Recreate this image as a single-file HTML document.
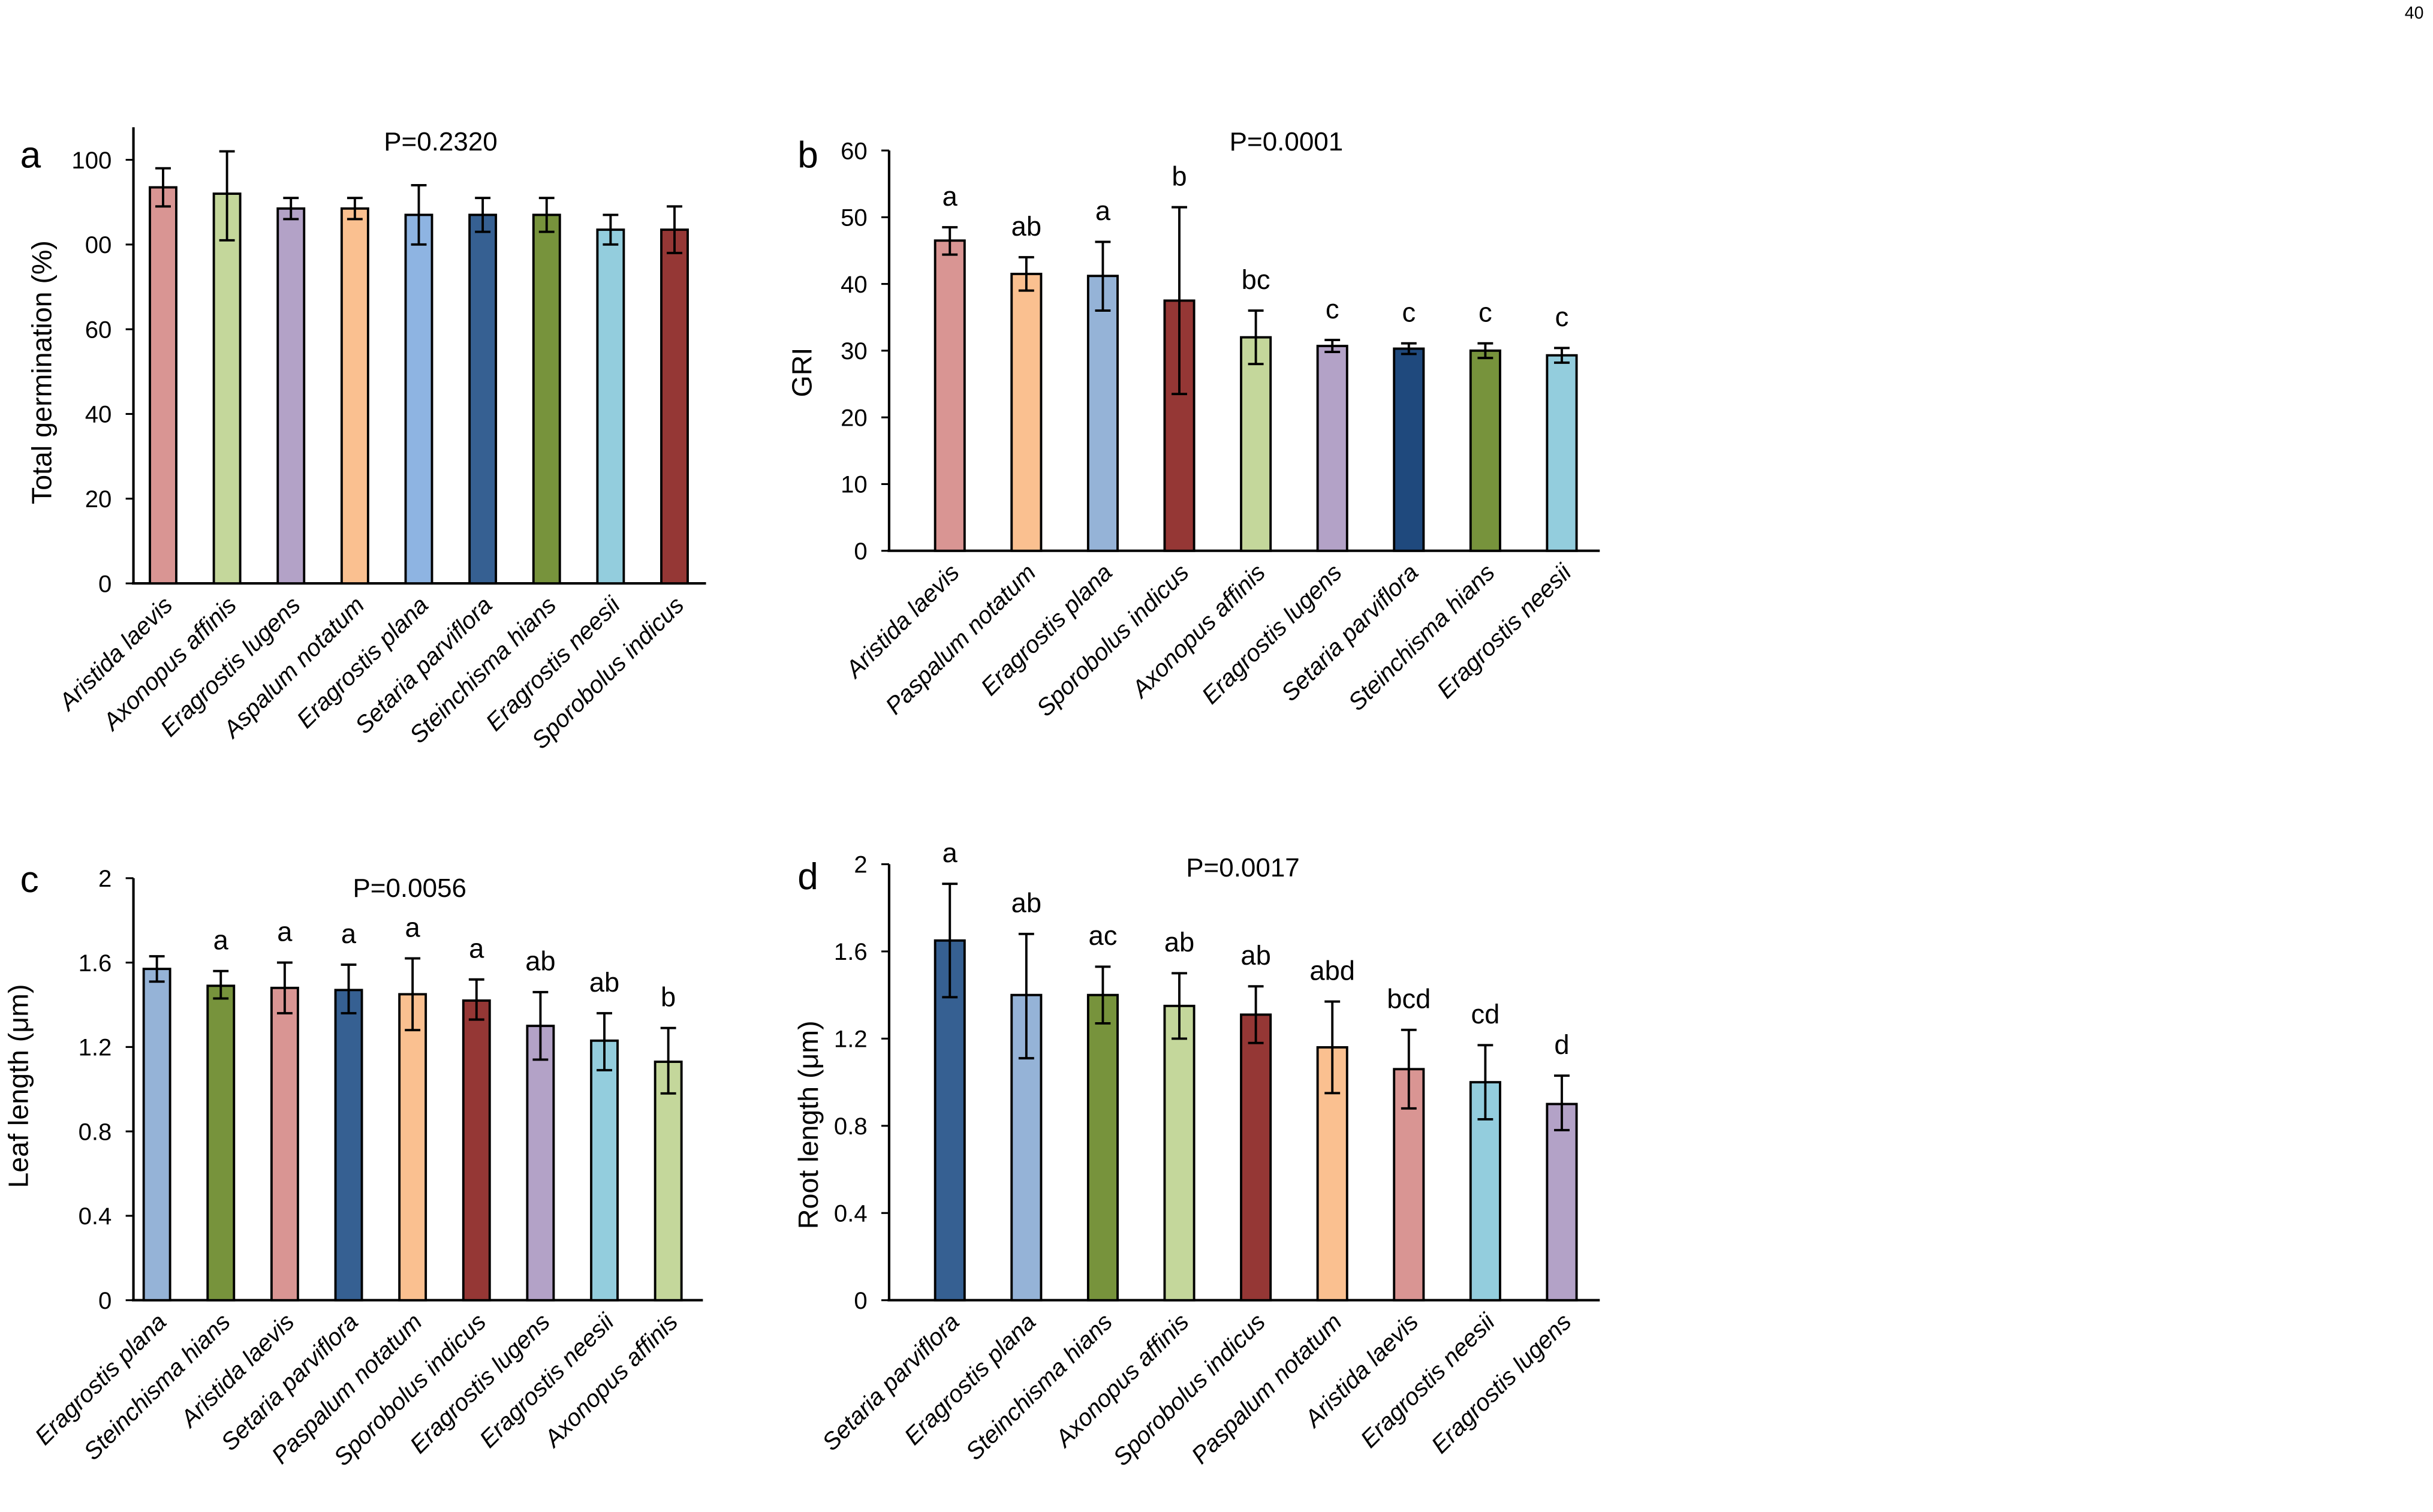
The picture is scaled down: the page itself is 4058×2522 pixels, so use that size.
<!DOCTYPE html>
<html><head><meta charset="utf-8"><style>
html,body{margin:0;padding:0;background:#fff;}
svg{display:block;font-family:"Liberation Sans",Arial,sans-serif;}
</style></head><body>
<svg id="fig" width="4058" height="2522" viewBox="0 0 1568 974.5" preserveAspectRatio="none" xmlns="http://www.w3.org/2000/svg">
<text x="1562" y="12" font-size="11" text-anchor="end">40</text>
</svg>
<script>
// Panel a
const catsA = ["Aristida laevis","Axonopus affinis","Eragrostis lugens","Aspalum notatum","Eragrostis plana","Setaria parviflora","Steinchisma hians","Eragrostis neesii","Sporobolus indicus"];
const valsA = [93.5,92,88.5,88.5,87,87,87,83.5,83.5];
const hiA = [98,102,91,91,94,91,91,87,89];
const loA = [89,81,86,86,80,83,83,80,78];
const ticksA = [0,20,40,60,80,100];
const tickLabelsA = ["0","20","40","60","00","100"];
const colorsA = ["#d99593","#c4d79b","#b3a2c7","#fac090","#8eb4e2","#366092","#77933c","#93cddd","#953735"];
const lettersA = ["","","","","","","","",""];
// Panel b
const catsB = ["Aristida laevis","Paspalum notatum","Eragrostis plana","Sporobolus indicus","Axonopus affinis","Eragrostis lugens","Setaria parviflora","Steinchisma hians","Eragrostis neesii"];
const valsB = [46.5,41.5,41.2,37.5,32,30.7,30.3,30,29.3];
const hiB = [48.5,44,46.3,51.5,36,31.6,31.1,31.1,30.4];
const loB = [44.4,39,36,23.5,28,29.8,29.5,28.9,28.2];
const ticksB = [0,10,20,30,40,50,60];
const tickLabelsB = ["0","10","20","30","40","50","60"];
const colorsB = ["#d99593","#fac090","#95b3d7","#953735","#c4d79b","#b3a2c7","#1f497d","#77933c","#93cddd"];
const lettersB = ["a","ab","a","b","bc","c","c","c","c"];
// Panel c
const catsC = ["Eragrostis plana","Steinchisma hians","Aristida laevis","Setaria parviflora","Paspalum notatum","Sporobolus indicus","Eragrostis lugens","Eragrostis neesii","Axonopus affinis"];
const valsC = [1.57,1.49,1.48,1.47,1.45,1.42,1.30,1.23,1.13];
const hiC = [1.63,1.56,1.60,1.59,1.62,1.52,1.46,1.36,1.29];
const loC = [1.51,1.43,1.36,1.36,1.28,1.33,1.14,1.09,0.98];
const ticksC = [0,0.4,0.8,1.2,1.6,2];
const tickLabelsC = ["0","0.4","0.8","1.2","1.6","2"];
const colorsC = ["#95b3d7","#77933c","#d99593","#366092","#fac090","#953735","#b3a2c7","#93cddd","#c4d79b"];
const lettersC = ["","a","a","a","a","a","ab","ab","b"];
// Panel d
const catsD = ["Setaria parviflora","Eragrostis plana","Steinchisma hians","Axonopus affinis","Sporobolus indicus","Paspalum notatum","Aristida laevis","Eragrostis neesii","Eragrostis lugens"];
const valsD = [1.65,1.40,1.40,1.35,1.31,1.16,1.06,1.00,0.90];
const hiD = [1.91,1.68,1.53,1.50,1.44,1.37,1.24,1.17,1.03];
const loD = [1.39,1.11,1.27,1.20,1.18,0.95,0.88,0.83,0.78];
const ticksD = [0,0.4,0.8,1.2,1.6,2];
const tickLabelsD = ["0","0.4","0.8","1.2","1.6","2"];
const colorsD = ["#366092","#95b3d7","#77933c","#c4d79b","#953735","#fac090","#d99593","#93cddd","#b3a2c7"];
const lettersD = ["a","ab","ac","ab","ab","abd","bcd","cd","d"];

const NS="http://www.w3.org/2000/svg";
const svg=document.getElementById('fig');
function mk(tag,attrs,parent){const e=document.createElementNS(NS,tag);for(const k in attrs)e.setAttribute(k,attrs[k]);(parent||svg).appendChild(e);return e;}

function panel(p){
  const g=mk('g',{});
  
  
  const yS=v=>p.y0-(v-p.min)/(p.max-p.min)*(p.y0-p.yTop);
  const xS=i=>p.x1+(i+0.5)*p.step;
  const ya=mk('line',{x1:p.xA,x2:p.xA,y1:p.axTop,y2:p.y0,stroke:'#000','stroke-width':1.6},g);
  
  
  const xa=mk('line',{x1:p.xA-1,x2:p.xEnd,y1:p.y0,y2:p.y0,stroke:'#000','stroke-width':1.6},g);
  
  
  p.ticks.forEach((t,i)=>{
    const y=yS(t);
    mk('line',{x1:p.xA-5,x2:p.xA,y1:y,y2:y,stroke:'#000','stroke-width':1.2},g);
    const tl=mk('text',{x:p.xA-14,y:y+5.5,'font-size':15.5,'text-anchor':'end'},g);
    tl.textContent=p.tickLabels[i];
    
    
  });
  p.vals.forEach((v,i)=>{
    const cx=xS(i),yt=yS(v);
    const r=mk('rect',{x:cx-p.bw/2,y:yt,width:p.bw,height:p.y0-yt,fill:p.colors[i],stroke:'#000','stroke-width':1.5},g);
    
    
    const yh=yS(p.hi[i]),yl=yS(p.lo[i]);
    const e=mk('path',{d:`M${cx},${yh}V${yl}M${cx-5},${yh}H${cx+5}M${cx-5},${yl}H${cx+5}`,stroke:'#000','stroke-width':1.5,fill:'none'},g);
    
    
    if(p.letters[i]){
      const lt=mk('text',{x:cx,y:yh-14,'font-size':17.5,'text-anchor':'middle'},g);
      lt.textContent=p.letters[i];
      
      
    }
    const xl=mk('text',{x:0,y:0,'font-size':15.5,'font-style':'italic','text-anchor':'end',transform:`translate(${cx+7},${p.y0+15}) rotate(-45)`},g);
    xl.textContent=p.cats[i];
    
    
  });
  const pl=mk('text',{x:p.px,y:p.py,'font-size':17,'text-anchor':'middle'},g);
  pl.textContent=p.pText;
  
  
  const lab=mk('text',{x:p.lx,y:p.ly,'font-size':24},g);
  lab.textContent=p.id;
  
  
  const yt=mk('text',{x:0,y:0,'font-size':18,'text-anchor':'middle',transform:`translate(${p.tx},${p.ty}) rotate(-90)`},g);
  yt.textContent=p.title;
  
  
}

panel({id:'a',cats:catsA,vals:valsA,hi:hiA,lo:loA,ticks:ticksA,tickLabels:tickLabelsA,colors:colorsA,letters:lettersA,
 min:0,max:100,y0:376,yTop:103,axTop:82,xA:86,xEnd:455,x1:84.5,step:41.2,bw:17,px:284,py:97,pText:'P=0.2320',lx:13,ly:108,tx:33,ty:240,title:'Total germination (%)'});
panel({id:'b',cats:catsB,vals:valsB,hi:hiB,lo:loB,ticks:ticksB,tickLabels:tickLabelsB,colors:colorsB,letters:lettersB,
 min:0,max:60,y0:355,yTop:97,axTop:97,xA:573,xEnd:1031,x1:587.5,step:49.3,bw:19,px:829,py:97,pText:'P=0.0001',lx:514,ly:108,tx:523,ty:240,title:'GRI'});
panel({id:'c',cats:catsC,vals:valsC,hi:hiC,lo:loC,ticks:ticksC,tickLabels:tickLabelsC,colors:colorsC,letters:lettersC,
 min:0,max:2,y0:838,yTop:566,axTop:566,xA:86,xEnd:453,x1:80.5,step:41.2,bw:17,px:264,py:578,pText:'P=0.0056',lx:13,ly:575,tx:18,ty:700,title:'Leaf length (\u03bcm)'});
panel({id:'d',cats:catsD,vals:valsD,hi:hiD,lo:loD,ticks:ticksD,tickLabels:tickLabelsD,colors:colorsD,letters:lettersD,
 min:0,max:2,y0:838,yTop:557,axTop:557,xA:573,xEnd:1031,x1:587.5,step:49.3,bw:19,px:801,py:565,pText:'P=0.0017',lx:514,ly:573,tx:527,ty:725,title:'Root length (\u03bcm)'});
</script>
</body></html>
